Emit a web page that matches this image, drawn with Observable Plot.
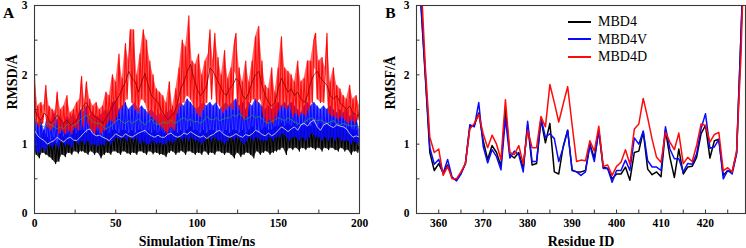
<!DOCTYPE html>
<html><head><meta charset="utf-8">
<script src="https://cdn.jsdelivr.net/npm/d3@7"></script>
<script src="https://cdn.jsdelivr.net/npm/@observablehq/plot@0.6"></script>
<style>
body{margin:0;background:#fff;}
#wrap{position:relative;width:746px;height:248px;display:flex;font-family:"Liberation Serif","Times New Roman",serif;}
#legend{position:absolute;left:568px;top:13px;font-family:"Liberation Serif","Times New Roman",serif;font-size:14px;line-height:17.5px;color:#000;}
#legend div{display:flex;align-items:center;height:17.5px;}
#legend span.sw{display:inline-block;width:23px;height:2px;margin-right:7px;}
</style></head><body><div id="wrap"><div id="legend"></div></div><script>
// ---------- Panel A : RMSD vs time ----------
const timeRaw = d3.range(0, 201, 1);
const timeSmooth = d3.range(0, 201, 2);
const xTicksA = [0, 50, 100, 150, 200];
const xMinorA = [0, 25, 50, 75, 100, 125, 150, 175, 200];
const yTicks = [0, 1, 2, 3];
const yMinor = [0, 0.5, 1, 1.5, 2, 2.5, 3];

const rmsdMBD4 = [
1.2,0.85,1.15,0.8,1.1,0.88,1.2,0.85,1.1,0.82,
1.05,0.78,1.1,0.72,1.0,0.75,1.15,0.85,1.1,0.82,
1.15,0.88,1.1,0.85,1.2,0.9,1.15,0.87,1.2,0.9,
1.2,0.88,1.15,0.85,1.2,0.9,1.15,0.85,1.2,0.88,
1.15,0.8,1.1,0.85,1.2,0.88,1.15,0.85,1.2,0.9,
1.2,0.88,1.15,0.85,1.2,0.9,1.2,0.87,1.15,0.85,
1.2,0.88,1.15,0.85,1.2,0.9,1.2,0.88,1.15,0.85,
1.2,0.9,1.15,0.86,1.2,0.88,1.15,0.85,1.2,0.85,
1.15,0.82,1.2,0.88,1.15,0.9,1.2,0.85,1.15,0.88,
1.2,0.9,1.15,0.85,1.2,0.9,1.25,0.88,1.2,0.85,
1.2,0.88,1.15,0.85,1.2,0.9,1.15,0.85,1.2,0.88,
1.2,0.85,1.15,0.9,1.2,0.88,1.15,0.85,1.2,0.88,
1.15,0.85,1.2,0.8,1.2,0.88,1.15,0.82,1.2,0.85,
1.15,0.88,1.2,0.85,1.25,0.8,1.2,0.9,1.15,0.85,
1.2,0.88,1.25,0.9,1.2,0.85,1.2,0.88,1.25,0.9,
1.25,0.92,1.3,0.95,1.25,0.85,1.3,0.95,1.25,0.92,
1.3,0.95,1.25,0.9,1.3,0.95,1.25,0.92,1.3,0.95,
1.25,0.95,1.3,0.92,1.25,0.95,1.3,0.9,1.25,0.95,
1.3,0.92,1.25,0.95,1.3,0.92,1.25,0.9,1.3,0.95,
1.25,0.9,1.2,0.92,1.25,0.85,1.2,0.9,1.2,0.88,
1.05];
const rmsdMBD4V = [
1.4,0.9,1.3,0.88,1.35,0.95,1.2,0.9,1.4,1.0,
1.3,0.95,1.45,1.0,1.35,0.95,1.4,1.05,1.3,0.98,
1.4,1.0,1.35,0.95,1.45,1.05,1.35,1.0,1.5,1.05,
1.45,1.0,1.55,1.05,1.4,0.98,1.45,1.0,1.4,0.97,
1.4,1.0,1.45,0.98,1.5,1.05,1.45,1.0,1.6,1.05,
1.62,1.1,1.5,1.05,1.55,1.1,1.6,1.05,1.5,1.1,
1.55,1.05,1.6,1.1,1.5,1.0,1.55,1.05,1.5,1.0,
1.45,1.0,1.5,1.05,1.45,1.0,1.4,1.02,1.45,1.0,
1.4,1.0,1.45,1.05,1.5,1.02,1.45,1.05,1.55,1.1,
1.6,1.05,1.55,1.1,1.65,1.05,1.6,1.1,1.55,1.05,
1.5,1.05,1.55,1.0,1.6,1.05,1.55,1.1,1.6,1.05,
1.55,1.1,1.6,1.05,1.5,1.05,1.55,1.0,1.6,1.05,
1.55,1.1,1.6,1.05,1.65,1.1,1.55,1.05,1.6,1.0,
1.5,1.05,1.6,1.1,1.55,1.05,1.65,1.1,1.6,1.05,
1.55,1.05,1.5,1.05,1.55,1.1,1.5,1.05,1.55,1.1,
1.6,1.1,1.55,1.15,1.6,1.1,1.55,1.05,1.6,1.1,
1.55,1.1,1.5,1.05,1.45,1.1,1.55,1.05,1.6,1.1,
1.55,1.15,1.6,1.1,1.55,1.1,1.5,1.05,1.55,1.1,
1.5,1.05,1.55,1.1,1.5,1.05,1.45,1.1,1.5,1.05,
1.45,1.05,1.5,1.05,1.4,1.0,1.45,1.05,1.4,1.0,
1.2];
const rmsdMBD4D = [
2.0,1.3,1.55,1.25,1.6,1.3,1.5,1.85,1.25,1.55,
1.2,1.5,1.25,1.45,1.75,1.15,1.5,1.2,1.55,1.15,
1.7,1.2,1.45,1.15,1.5,1.25,1.6,1.2,1.65,1.98,
1.25,1.6,1.9,1.3,1.65,1.2,1.55,1.15,1.6,1.25,
1.5,1.15,1.55,1.2,1.75,1.3,1.7,1.35,2.0,1.3,
1.9,1.4,2.3,1.5,1.95,1.55,2.45,1.65,2.2,2.65,
1.6,2.65,1.5,2.0,1.45,2.3,1.65,2.65,1.6,2.5,
1.45,2.2,1.4,2.0,1.35,1.8,1.3,1.75,1.25,1.7,
1.2,1.6,1.15,1.9,1.25,1.55,1.2,1.8,1.45,2.1,
1.55,2.5,1.6,2.4,1.7,2.85,1.65,2.2,1.55,2.15,
1.45,2.3,1.4,2.0,1.5,2.2,1.6,2.3,2.65,1.65,
2.2,2.6,1.6,2.25,1.55,2.0,1.45,2.35,1.5,1.95,
1.55,2.1,1.5,2.45,2.6,1.55,2.1,1.45,1.9,1.35,
2.2,1.4,1.9,1.6,2.2,1.65,2.55,1.6,2.7,1.65,
2.2,1.4,1.85,1.3,1.8,1.35,2.1,1.3,1.75,1.4,
2.1,1.5,2.55,1.55,2.1,1.5,2.05,1.55,2.0,1.4,
1.9,1.45,2.2,1.4,1.9,1.45,1.95,1.4,2.2,1.5,
2.2,1.6,2.5,2.6,1.65,2.2,1.6,2.25,1.6,2.1,
2.6,1.45,1.9,1.4,2.1,1.4,1.85,1.35,1.8,1.4,
1.7,1.35,1.65,1.3,1.85,1.35,1.65,1.3,1.7,1.35,
1.55];
const smoothMBD4 = [
1.2,1.12,1.08,1.05,1.0, 1.03,1.05,1.1,1.06,1.03,
1.08,1.1,1.06,1.05,1.1, 1.15,1.2,1.22,1.15,1.12,
1.13,1.1,1.08,1.05,1.1, 1.15,1.12,1.1,1.15,1.12,
1.1,1.13,1.16,1.18,1.2, 1.15,1.12,1.1,1.13,1.1,
1.1,1.14,1.16,1.12,1.1, 1.12,1.16,1.14,1.18,1.15,
1.12,1.1,1.12,1.08,1.12, 1.14,1.18,1.2,1.15,1.12,
1.1,1.12,1.15,1.12,1.1, 1.14,1.12,1.15,1.2,1.18,
1.14,1.12,1.16,1.12,1.15, 1.2,1.25,1.22,1.18,1.22,
1.25,1.2,1.28,1.3,1.26, 1.32,1.35,1.25,1.2,1.28,
1.3,1.26,1.24,1.28,1.26, 1.25,1.22,1.15,1.1,1.12,
1.1];
const smoothMBD4V = [
1.35,1.32,1.28,1.25,1.3, 1.28,1.25,1.22,1.25,1.22,
1.28,1.3,1.27,1.3,1.35, 1.38,1.42,1.36,1.32,1.3,
1.3,1.26,1.22,1.25,1.28, 1.33,1.36,1.32,1.3,1.34,
1.3,1.33,1.36,1.32,1.28, 1.33,1.36,1.3,1.28,1.3,
1.32,1.3,1.35,1.3,1.32, 1.36,1.38,1.34,1.36,1.32,
1.33,1.3,1.33,1.4,1.36, 1.35,1.38,1.34,1.36,1.38,
1.38,1.42,1.4,1.44,1.4, 1.36,1.38,1.42,1.38,1.4,
1.37,1.32,1.3,1.33,1.35, 1.38,1.36,1.34,1.38,1.35,
1.32,1.3,1.28,1.32,1.35, 1.38,1.36,1.34,1.35,1.32,
1.3,1.32,1.34,1.3,1.28, 1.3,1.28,1.27,1.26,1.27,
1.25];
const smoothMBD4D = [
1.5,1.4,1.35,1.45,1.4,1.3,1.35,1.42,1.35,1.3,
1.35,1.28,1.3,1.35,1.45,1.55,1.6,1.5,1.42,1.38,
1.35,1.3,1.38,1.45,1.55,1.62,1.7,1.8,1.9,2.05,
1.95,1.9,1.75,1.9,2.02,1.85,1.7,1.65,1.6,1.5,
1.42,1.35,1.4,1.45,1.6,1.8,1.9,2.05,2.15,1.95,
1.8,1.7,1.75,1.85,2.1,2.05,1.95,1.85,1.75,1.7,
1.8,1.85,1.95,1.9,1.7,1.65,1.75,1.9,2.0,2.05,
1.85,1.7,1.6,1.55,1.6,1.8,1.95,1.85,1.75,1.8,
1.7,1.75,1.65,1.6,1.7,1.9,2.0,2.05,1.95,1.9,
1.85,1.7,1.65,1.7,1.6,1.55,1.5,1.55,1.45,1.42,
1.4];

// ---------- Panel B : RMSF per residue ----------
const residues = d3.range(355, 430, 1);
const xTicksB = [360, 370, 380, 390, 400, 410, 420];
const xMinorB = [360, 365, 370, 375, 380, 385, 390, 395, 400, 405, 410, 415, 420, 425];
const rmsfMBD4 = [
4.5,3.0,1.95,0.88,0.62,0.72,0.58,0.7,0.52,0.48,
0.58,0.72,1.25,1.27,1.45,1.05,0.78,0.98,0.88,0.68,
1.5,0.85,0.8,0.88,0.65,1.28,0.7,0.72,1.35,1.02,
1.3,0.6,0.57,0.97,1.2,0.62,0.6,0.6,0.62,1.0,
0.8,1.2,0.67,0.65,0.5,0.57,0.57,0.67,0.48,0.88,
0.9,1.18,0.64,0.56,0.6,0.53,1.2,0.81,0.52,0.93,
0.57,0.67,0.68,0.81,1.15,1.27,0.8,1.05,1.07,0.55,
0.62,0.6,0.88,2.6,4.5];
const rmsfMBD4V = [
4.5,3.05,2.0,0.95,0.71,0.78,0.58,0.78,0.52,0.47,
0.57,0.72,1.28,1.25,1.6,0.97,0.73,0.92,0.82,0.63,
1.37,0.8,0.9,0.85,0.6,1.33,0.75,0.75,1.38,1.1,
1.15,1.08,0.75,0.95,1.2,0.63,0.6,0.55,0.6,0.98,
0.75,1.2,0.65,0.65,0.45,0.62,0.62,0.77,0.62,1.09,
1.0,1.19,0.76,0.67,0.67,0.62,1.25,0.93,0.79,0.79,
0.6,0.72,0.71,0.86,1.22,1.44,0.94,0.96,1.07,0.5,
0.62,0.57,0.86,2.6,4.5];
const rmsfMBD4D = [
4.5,3.4,2.1,1.1,0.88,0.93,0.55,0.68,0.5,0.5,
0.6,0.72,1.22,1.3,1.43,1.15,0.95,1.13,1.0,0.78,
1.64,0.88,0.85,0.98,0.72,1.2,0.95,0.95,1.4,1.25,
1.86,1.6,1.32,1.58,1.83,1.28,0.75,0.77,0.76,1.05,
0.9,1.26,0.68,0.7,0.55,0.68,0.74,0.92,0.71,1.22,
1.29,1.66,1.38,1.07,0.81,0.74,1.17,1.03,0.92,1.16,
0.72,0.81,0.75,0.98,1.29,1.27,1.03,1.14,1.17,0.62,
0.66,0.6,0.9,2.3,4.5];

const seriesNames = ["MBD4", "MBD4V", "MBD4D"];
const seriesColors = ["#000000", "#0a0aff", "#ff0a0a"];

const serif = "'Liberation Serif', 'Times New Roman', serif";
const style = {fontFamily: serif, fontSize: "11.5px", fontWeight: "bold", background: "transparent", overflow: "visible", color: "#000"};
const frameColor = "#3a3a3a";

function common(width, ml, mr, xDomain, xTicks, xMinor, xTitle, yTitle, panel, yDx, panelDx) {
  const mt = 5, mb = 35, H = 248;
  const fw = width - ml - mr, fh = H - mt - mb;
  return {
    opts: {width, height: H, marginLeft: ml, marginRight: mr, marginTop: mt, marginBottom: mb,
      x: {domain: xDomain}, y: {domain: [0, 3]}, style},
    marks: [
      Plot.tickX(xMinor, {x: d => d, insetTop: fh - 3.5, stroke: frameColor}),
      Plot.tickY(yMinor, {y: d => d, insetRight: fw - 3.5, stroke: frameColor}),
      Plot.axisX({ticks: xTicks, tickSize: 0, tickPadding: 5, label: null, tickFormat: d3.format("d"), fontWeight: "bold"}),
      Plot.axisY({ticks: yTicks, tickSize: 0, tickPadding: 7, label: null, tickFormat: d3.format("d"), fontWeight: "bold"}),
      Plot.frame({stroke: frameColor, strokeWidth: 1.1}),
      Plot.text([xTitle], {text: d => d, frameAnchor: "bottom", dy: 28, fontSize: 14, fontWeight: "bold", lineAnchor: "middle"}),
      Plot.text([yTitle], {text: d => d, frameAnchor: "left", dx: yDx, rotate: -90, fontSize: 14, fontWeight: "bold", lineAnchor: "middle"}),
      Plot.text([panel], {text: d => d, frameAnchor: "top-left", dx: panelDx, dy: 8, fontSize: 15.5, fontWeight: "bold", lineAnchor: "middle", textAnchor: "middle"})
    ]
  };
}

// the densely sampled zig-zag reads as a band: its upper edge joins the peaks,
// its lower edge joins the troughs; the trace itself is drawn over it
function envelope(values) {
  return values.map((v, i) => {
    const a = values[i - 1], b = values[i + 1];
    const mid = (a === undefined || b === undefined) ? v : (a + b) / 2;
    return {t: timeRaw[i], lo: Math.min(v, mid), hi: Math.max(v, mid)};
  });
}
function rawMarks(values, color, bandOp, lineOp) {
  return [
    Plot.areaY(envelope(values), {x: "t", y1: "lo", y2: "hi", fill: color, fillOpacity: bandOp}),
    Plot.line(values, {x: (d, i) => timeRaw[i], y: d => d, stroke: color, strokeWidth: 1.1, strokeOpacity: lineOp})
  ];
}

const A = common(373, 34, 14, [0, 200], xTicksA, xMinorA, "Simulation Time/ns", "RMSD/Å", "A", -22, -26);
const chartA = Plot.plot({
  ...A.opts,
  marks: [
    ...rawMarks(rmsdMBD4, seriesColors[0], 0.8, 1),
    ...rawMarks(rmsdMBD4V, seriesColors[1], 0.75, 1),
    ...rawMarks(rmsdMBD4D, seriesColors[2], 0.62, 1),
    Plot.line(smoothMBD4V, {x: (d, i) => timeSmooth[i], y: d => d, stroke: "#2ca02c", strokeWidth: 1, strokeOpacity: 0.7}),
    Plot.line(smoothMBD4, {x: (d, i) => timeSmooth[i], y: d => d, stroke: "#ffffff", strokeWidth: 1, strokeOpacity: 0.7}),
    Plot.line(smoothMBD4D, {x: (d, i) => timeSmooth[i], y: d => d, stroke: "#7a0000", strokeWidth: 1, strokeOpacity: 0.75}),
    ...A.marks
  ]
});

const B = common(373, 43, 1, [355, 429], xTicksB, xMinorB, "Residue ID", "RMSF/Å", "B", -26, -26);
const rmsfSeries = [rmsfMBD4, rmsfMBD4V, rmsfMBD4D];
const chartB = Plot.plot({
  ...B.opts,
  marks: [
    ...rmsfSeries.map((s, k) => Plot.line(s, {x: (d, i) => residues[i], y: d => d, stroke: seriesColors[k], strokeWidth: 1.5, clip: true})),
    ...B.marks
  ]
});

const wrap = document.getElementById("wrap");
wrap.insertBefore(chartB, wrap.firstChild);
wrap.insertBefore(chartA, chartB);

const legend = document.getElementById("legend");
seriesNames.forEach((name, k) => {
  const row = document.createElement("div");
  const sw = document.createElement("span");
  sw.className = "sw";
  sw.style.background = seriesColors[k];
  row.appendChild(sw);
  row.appendChild(document.createTextNode(name));
  legend.appendChild(row);
});
</script></body></html>
